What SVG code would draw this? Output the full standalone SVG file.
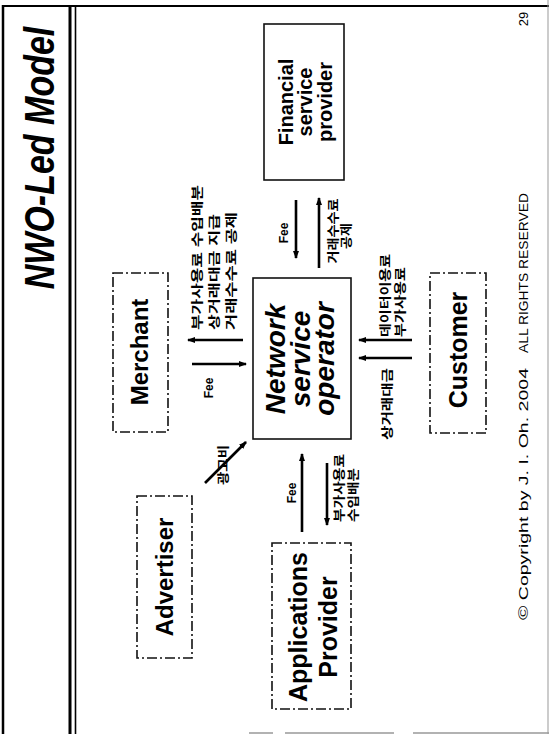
<svg xmlns="http://www.w3.org/2000/svg" width="549" height="734" viewBox="0 0 549 734">
<style>
 .frame{stroke:#000;fill:none}
 .box{fill:#fff;stroke:#111;stroke-width:1.6}
 .dash{stroke-dasharray:10 3 2 3}
 .lbl{font-family:"Liberation Sans",Arial,sans-serif;font-weight:bold;fill:#000}
 .ko{font-family:"Liberation Sans","Noto Sans CJK KR",sans-serif;font-weight:bold;font-size:12px;fill:#000}
 .cp{font-family:"Liberation Sans",Arial,sans-serif;font-size:13px;fill:#000}
 .arr{stroke:#000;stroke-width:2.6;fill:none;marker-end:url(#ah)}
</style>
<defs>
 <marker id="ah" viewBox="0 0 8 6" refX="7" refY="3" markerWidth="8" markerHeight="6" markerUnits="userSpaceOnUse" orient="auto"><path d="M0,0 L8,3 L0,6 z" fill="#000"/></marker>
</defs>
<rect width="549" height="734" fill="#fff"/>
<g id="frame">
 <line class="frame" x1="3" y1="6" x2="549" y2="6" stroke-width="2"/>
 <line class="frame" x1="3" y1="5" x2="3" y2="734" stroke-width="2.5"/>
 <line class="frame" x1="70" y1="6" x2="70" y2="734" stroke-width="3"/>
 <line class="frame" x1="75.5" y1="6" x2="75.5" y2="734" stroke-width="1.6"/>
 <line x1="548" y1="0" x2="548" y2="734" stroke="#999" stroke-width="1"/>
 <path d="M249,733H273M285,733H394M413,733H549" stroke="#999" stroke-width="1.5"/>
</g>
<g id="title"><text class="lbl" font-style="italic" font-size="42" text-anchor="middle" transform="translate(54,158) rotate(-90) scale(0.81,1)">NWO-Led Model</text></g>

<g id="financial">
 <rect class="box" x="264" y="24" width="80" height="156"/>
 <text class="lbl" font-size="20" text-anchor="middle" transform="translate(293,102) rotate(-90)">Financial</text>
 <text class="lbl" font-size="20" text-anchor="middle" transform="translate(312,102) rotate(-90)">service</text>
 <text class="lbl" font-size="20" text-anchor="middle" transform="translate(332,102) rotate(-90)">provider</text>
</g>
<g id="network">
 <rect class="box" x="253" y="278" width="98" height="161"/>
 <text class="lbl" font-style="italic" font-size="28" text-anchor="middle" transform="translate(285,359) rotate(-90)">Network</text>
 <text class="lbl" font-style="italic" font-size="28" text-anchor="middle" transform="translate(310,359) rotate(-90)">service</text>
 <text class="lbl" font-style="italic" font-size="28" text-anchor="middle" transform="translate(334,359) rotate(-90)">operator</text>
</g>
<g id="merchant">
 <rect class="box dash" x="113" y="273" width="55" height="159"/>
 <text class="lbl" font-size="24" text-anchor="middle" transform="translate(148,352) rotate(-90)">Merchant</text>
</g>
<g id="advertiser">
 <rect class="box dash" x="137" y="496" width="55" height="162"/>
 <text class="lbl" font-size="24" text-anchor="middle" transform="translate(173,577) rotate(-90)">Advertiser</text>
</g>
<g id="applications">
 <rect class="box dash" x="272" y="543" width="79" height="166"/>
 <text class="lbl" font-size="25" text-anchor="middle" transform="translate(307,627) rotate(-90)">Applications</text>
 <text class="lbl" font-size="25" text-anchor="middle" transform="translate(337,627) rotate(-90)">Provider</text>
</g>
<g id="customer">
 <rect class="box dash" x="430" y="273" width="56" height="160"/>
 <text class="lbl" font-size="25" text-anchor="middle" transform="translate(467,350) rotate(-90)">Customer</text>
</g>

<g id="connectors">
 <line class="arr" x1="296" y1="200" x2="296" y2="258"/>
 <line class="arr" x1="319" y1="268" x2="319" y2="198"/>
 <line class="arr" x1="243" y1="340" x2="188" y2="340"/>
 <line class="arr" x1="192" y1="364" x2="246" y2="364"/>
 <line class="arr" x1="412" y1="340" x2="359" y2="340"/>
 <line class="arr" x1="412" y1="358" x2="359" y2="358"/>
 <line class="arr" x1="302" y1="532" x2="302" y2="454"/>
 <line class="arr" x1="327" y1="463" x2="327" y2="525"/>
 <line class="arr" x1="205" y1="483" x2="246" y2="442"/>
</g>

<g id="labels">
 <text class="lbl" font-size="12" text-anchor="middle" transform="translate(288,233) rotate(-90)">Fee</text>
 <text class="ko" text-anchor="middle" transform="translate(338,231) rotate(-90)" textLength="65" lengthAdjust="spacingAndGlyphs">거래수수료</text>
 <text class="ko" text-anchor="middle" transform="translate(351,236) rotate(-90)" textLength="26" lengthAdjust="spacingAndGlyphs">공제</text>

 <text class="lbl" font-size="12" text-anchor="middle" transform="translate(213,388) rotate(-90)">Fee</text>
 <text class="ko" transform="translate(202,330) rotate(-90)" textLength="145" lengthAdjust="spacingAndGlyphs">부가사용료 수입배분</text>
 <text class="ko" transform="translate(219,330) rotate(-90)" textLength="116" lengthAdjust="spacingAndGlyphs">상거래대금 지급</text>
 <text class="ko" transform="translate(236,330) rotate(-90)" textLength="118" lengthAdjust="spacingAndGlyphs">거래수수료 공제</text>

 <text class="ko" transform="translate(390,337) rotate(-90)" textLength="83" lengthAdjust="spacingAndGlyphs">데이터이용료</text>
 <text class="ko" transform="translate(405,337) rotate(-90)" textLength="70" lengthAdjust="spacingAndGlyphs">부가사용료</text>
 <text class="ko" transform="translate(392,440) rotate(-90)" textLength="72" lengthAdjust="spacingAndGlyphs">상거래대금</text>

 <text class="lbl" font-size="12" text-anchor="middle" transform="translate(296,493) rotate(-90)">Fee</text>
 <text class="ko" transform="translate(344,522) rotate(-90)" textLength="68" lengthAdjust="spacingAndGlyphs">부가사용료</text>
 <text class="ko" transform="translate(358,522) rotate(-90)" textLength="54" lengthAdjust="spacingAndGlyphs">수입배분</text>

 <text class="ko" text-anchor="middle" transform="translate(228,465) rotate(-90)" textLength="40" lengthAdjust="spacingAndGlyphs">광고비</text>
</g>
<g id="footer">
 <text class="cp" text-anchor="end" transform="translate(528,368) rotate(-90)" textLength="252" lengthAdjust="spacingAndGlyphs">© Copyright by J. I. Oh. 2004</text>
 <text class="cp" transform="translate(528,353) rotate(-90)" textLength="160" lengthAdjust="spacingAndGlyphs">ALL RIGHTS RESERVED</text>
 <text class="cp" font-size="11" text-anchor="middle" transform="translate(528,19) rotate(-90)">29</text>
</g>
</svg>
